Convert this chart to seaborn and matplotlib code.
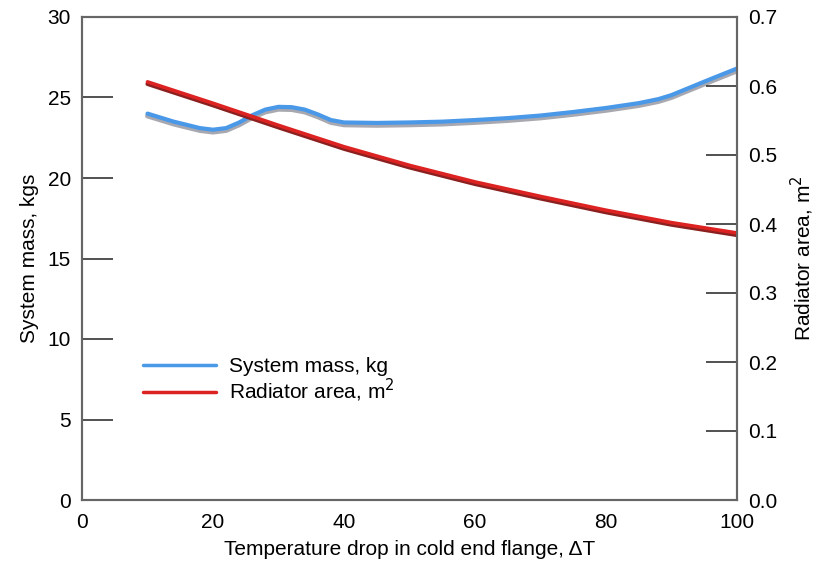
import matplotlib
matplotlib.use("Agg")
import matplotlib.pyplot as plt
import seaborn as sns
import pandas as pd
from matplotlib.lines import Line2D

sns.set_style("white")
plt.rcParams['font.family'] = ['Liberation Sans', 'DejaVu Sans']
plt.rcParams['text.color'] = 'black'
plt.rcParams['axes.labelcolor'] = 'black'
plt.rcParams['xtick.color'] = 'black'
plt.rcParams['ytick.color'] = 'black'

# data
dt_mass = [10, 12, 14, 16, 18, 20, 22, 24, 26, 28, 30, 32, 34, 36, 38, 40, 45, 50, 55, 60, 65, 70, 75, 80, 85, 88, 90, 93, 96, 100]
mass = [24.0, 23.75, 23.5, 23.3, 23.1, 23.0, 23.1, 23.45, 23.9, 24.25, 24.42, 24.4, 24.25, 23.95, 23.6, 23.45,
        23.42, 23.45, 23.5, 23.6, 23.72, 23.88, 24.1, 24.35, 24.65, 24.9, 25.15, 25.65, 26.15, 26.8]
dt_area = [10, 20, 30, 40, 50, 60, 70, 80, 90, 100]
area = [0.606, 0.575, 0.543, 0.512, 0.485, 0.461, 0.440, 0.420, 0.402, 0.387]

dm = pd.DataFrame({"dT": dt_mass, "mass": mass})
da = pd.DataFrame({"dT": dt_area, "area": area})

fig = plt.figure(figsize=(8.17, 5.65), dpi=100)
ax = fig.add_axes([82/817, 65/565, 655/817, 483/565])
ax2 = ax.twinx()

# shadows
dm_sh = dm.copy(); dm_sh["mass"] = dm_sh["mass"] - 0.15
da_sh = da.copy(); da_sh["area"] = da_sh["area"] - 0.003
sns.lineplot(data=dm_sh, x="dT", y="mass", ax=ax, color="#a8a8b0", lw=3.5, legend=False)
sns.lineplot(data=dm, x="dT", y="mass", ax=ax, color="#4a98e8", lw=3, legend=False)
sns.lineplot(data=da_sh, x="dT", y="area", ax=ax2, color="#8a2020", lw=3, legend=False)
sns.lineplot(data=da, x="dT", y="area", ax=ax2, color="#dd2222", lw=2.6, legend=False)

ax.set_xlim(0, 100)
ax.set_ylim(0, 30)
ax2.set_ylim(0, 0.7)
ax.set_xticks([0, 20, 40, 60, 80, 100])
ax.set_yticks([0, 5, 10, 15, 20, 25, 30])
ax2.set_yticks([0, 0.1, 0.2, 0.3, 0.4, 0.5, 0.6, 0.7])
ax2.set_yticklabels(["0.0", "0.1", "0.2", "0.3", "0.4", "0.5", "0.6", "0.7"])

fs = 15
ax.tick_params(axis="both", direction="in", length=22, width=1.2, color="#333333", labelsize=fs, pad=8)
ax.tick_params(axis="x", pad=9)
ax2.tick_params(axis="y", direction="in", length=22, width=1.2, color="#333333", labelsize=fs, pad=8)
for a in (ax, ax2):
    for s in a.spines.values():
        s.set_color("#666666")
        s.set_linewidth(1.5)

ax.set_xlabel("Temperature drop in cold end flange, ΔT", fontsize=fs, labelpad=6)
ax.set_ylabel("System mass, kgs", fontsize=fs, labelpad=6)
ax2.set_ylabel("Radiator area, m$^2$", fontsize=fs, labelpad=8)

handles = [Line2D([], [], color="#4a98e8", lw=2.5), Line2D([], [], color="#dd2222", lw=2.5)]
ax.legend(handles, ["System mass, kg", "Radiator area, m$^2$"], loc="upper left",
          bbox_to_anchor=(0.065, 0.335), frameon=False, fontsize=fs, handlelength=3.5,
          labelspacing=0.05, handletextpad=0.6)

fig.savefig("out.png", dpi=100)
